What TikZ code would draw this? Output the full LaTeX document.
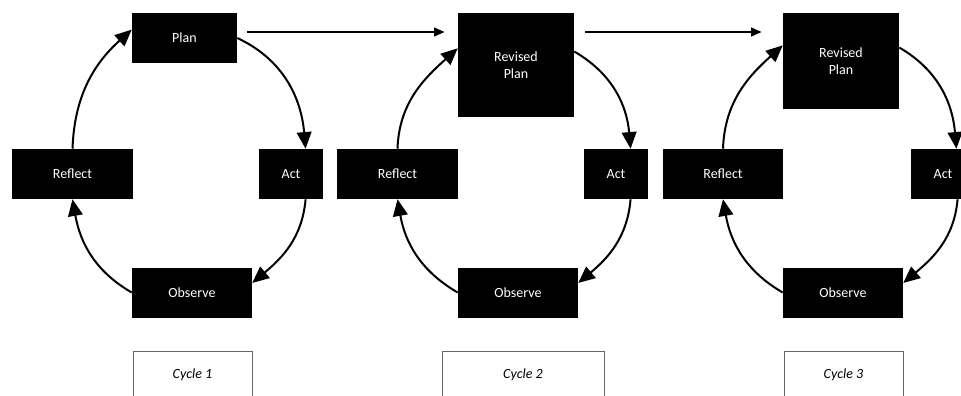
\documentclass[tikz,border=0pt]{standalone}
\usepackage{fontspec}
\setmainfont{Carlito}
\usetikzlibrary{arrows.meta}

\tikzset{
  stage/.style={fill=black, text=white, align=center, inner sep=0pt,
    minimum height=37.5pt, font=\fontsize{10.5}{13}\selectfont},
  cyclebox/.style={draw=black!60, line width=0.75pt, fill=white, inner sep=0pt,
    minimum height=36pt, font=\fontsize{10.5}{13}\selectfont\itshape},
  turn/.style={line width=1.5pt, -{Triangle[length=12.5pt,width=11pt]}},
  link/.style={line width=1.5pt, -{Triangle[length=8pt,width=6.5pt]}}
}

\begin{document}
\begin{tikzpicture}[x=0.75pt, y=-0.75pt]
\clip (0,0) rectangle (961,396);
\fill[white] (0,0) rectangle (961,396);

% cycle 1
\node[stage, minimum width=78.75pt] (plan1) at (184.5,38) {Plan};
\node[stage, minimum width=90.75pt] (reflect1) at (72.5,174) {Reflect};
\node[stage, minimum width=48pt] (act1) at (291,174) {Act};
\node[stage, minimum width=90pt] (observe1) at (192,292.5) {Observe};
\node[cyclebox, minimum width=89.25pt] (cycle1) at (192.5,375) {Cycle 1};

\draw[turn] (plan1.east) to[out=-25, in=95] (act1.60);
\draw[turn] (act1.-60) to[out=-95, in=40] (observe1.9);
\draw[turn] (observe1.west) to[out=150, in=-80] (reflect1.south);
\draw[turn] (reflect1.north) to[out=88, in=222] (plan1.171);

% cycle 2
\node[stage, minimum width=87pt, minimum height=78pt] (plan2) at (516,65) {Revised\\Plan};
\node[stage, minimum width=90.75pt] (reflect2) at (397.5,174) {Reflect};
\node[stage, minimum width=48pt] (act2) at (616,174) {Act};
\node[stage, minimum width=90pt] (observe2) at (518,292.5) {Observe};
\node[cyclebox, minimum width=121.5pt] (cycle2) at (523,375) {Cycle 2};

\draw[turn] (plan2.13) to[out=-30, in=95] (act2.60);
\draw[turn] (act2.-60) to[out=-95, in=40] (observe2.9);
\draw[turn] (observe2.west) to[out=150, in=-80] (reflect2.south);
\draw[turn] (reflect2.north) to[out=88, in=222] (plan2.164);

% cycle 3
\node[stage, minimum width=87pt, minimum height=72pt] (plan3) at (841,61) {Revised\\Plan};
\node[stage, minimum width=90pt] (reflect3) at (723,174) {Reflect};
\node[stage, minimum width=48pt] (act3) at (943,174) {Act};
\node[stage, minimum width=90pt] (observe3) at (843,292.5) {Observe};
\node[cyclebox, minimum width=89.25pt] (cycle3) at (843.5,375) {Cycle 3};

\draw[turn] (plan3.13) to[out=-30, in=95] (act3.62);
\draw[turn] (act3.-60) to[out=-95, in=40] (observe3.9);
\draw[turn] (observe3.west) to[out=150, in=-80] (reflect3.south);
\draw[turn] (reflect3.north) to[out=88, in=222] (plan3.165);

% from one cycle to the next
\coordinate (top) at (0,32);
\draw[link, shorten <=7.5pt, shorten >=9.75pt] (plan1.east |- top) -- (plan2.west |- top);
\draw[link, shorten <=8.25pt, shorten >=15.75pt] (plan2.east |- top) -- (plan3.west |- top);

\end{tikzpicture}
\end{document}
